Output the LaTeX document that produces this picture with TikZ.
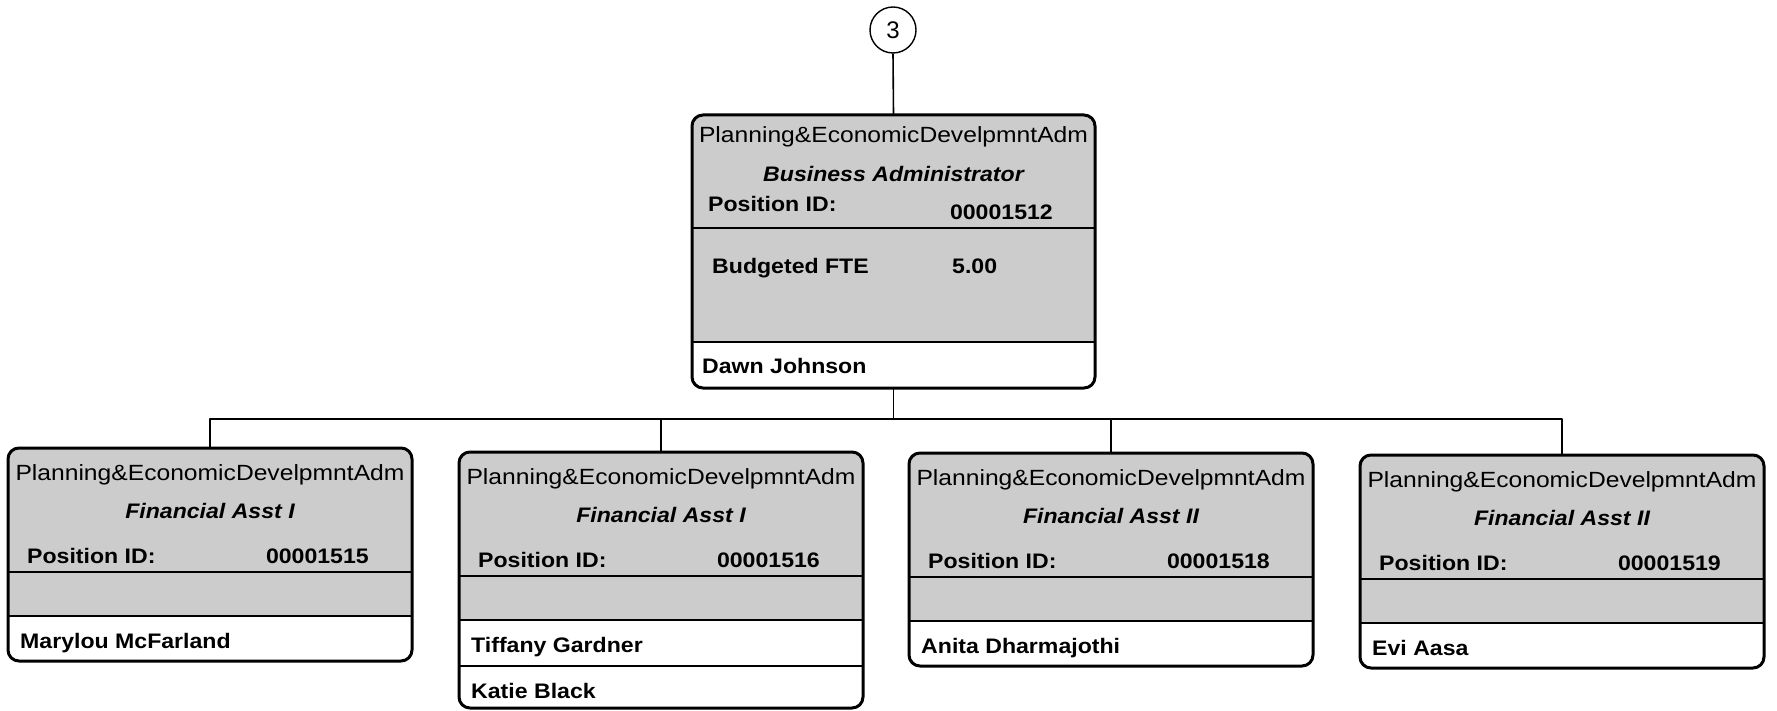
\documentclass[tikz,border=0pt]{standalone}
\usepackage{fontspec}
\setmainfont{Liberation Sans}
\usetikzlibrary{calc}
\definecolor{cardgray}{RGB}{204,204,204}
% horizontally widened text
\newcommand\wider[2][1.1]{\scalebox{#1}[1]{#2}}
\tikzset{
  cardbase/.style={inner sep=0pt, outer sep=0pt, fill=white, draw=none, rounded corners=11pt},
  frame/.style={line width=3pt, rounded corners=11pt},
  divider/.style={line width=1.8pt},
  link/.style={line width=1.6pt},
  hdr/.style={inner sep=0pt, anchor=base, font=\fontsize{22}{26}\selectfont},
  ttl/.style={inner sep=0pt, anchor=base, font=\fontsize{21}{24}\selectfont\bfseries\itshape},
  lbl/.style={inner sep=0pt, anchor=base west, font=\fontsize{21}{24}\selectfont\bfseries},
  lblr/.style={inner sep=0pt, anchor=base east, font=\fontsize{21}{24}\selectfont\bfseries},
}
% card background: white rounded box with a gray upper part
\newcommand\cardbody[6]{%
  \node[cardbase, minimum width=#4pt, minimum height=#5pt, anchor=north west] (#1) at (#2,#3) {};
  \begin{scope}
    \clip[rounded corners=11pt] (#1.north west) rectangle (#1.south east);
    \fill[cardgray] (#1.north west) rectangle ($(#1.north east)+(0,#6)$);
  \end{scope}
}
\newcommand\cardline[2]{%
  \draw[divider] ($(#1.north west)+(0,#2)$) -- ($(#1.north east)+(0,#2)$);
}
\newcommand\cardframe[1]{%
  \draw[frame] (#1.north west) rectangle (#1.south east);
}
% subordinate position card: name, left, top, title, id, person
\newcommand\subcard[6]{%
  \cardbody{#1}{#2}{#3}{404}{213}{168}
  \cardline{#1}{124}
  \cardline{#1}{168}
  \node[hdr] (#1-unit) at ($(#1.north)+(0,32)$) {\wider[1.12]{Planning\&EconomicDevelpmntAdm}};
  \node[ttl] (#1-title) at ($(#1.north)+(0,70)$) {\wider{#4}};
  \node[lbl] (#1-pid) at ($(#1.north west)+(19,115)$) {\wider{Position ID:}};
  \node[lblr] (#1-num) at ($(#1.north east)+(-43,115)$) {\wider{#5}};
  \node[lbl] (#1-name) at ($(#1.north west)+(12,200)$) {\wider{#6}};
  \cardframe{#1}
}
\begin{document}
\begin{tikzpicture}[x=1pt, y=-1pt, line join=round]
\useasboundingbox (0,0) rectangle (1777,711);

% off-page connector
\node[circle, draw, line width=1.4pt, minimum size=46pt, inner sep=0pt,
      font=\fontsize{24}{28}\selectfont] (c3) at (893,30) {3};

% head position
\cardbody{b0}{692}{115}{403}{273}{227}
\cardline{b0}{113}
\cardline{b0}{227}
\node[hdr] (b0-unit) at ($(b0.north)+(0,28)$) {\wider[1.12]{Planning\&EconomicDevelpmntAdm}};
\node[ttl] (b0-title) at ($(b0.north)+(0,67)$) {\wider{Business Administrator}};
\node[lbl] (b0-pid) at ($(b0.north west)+(16,97)$) {\wider{Position ID:}};
\node[lblr] (b0-num) at ($(b0.north east)+(-42,105)$) {\wider{00001512}};
\node[lbl] (b0-fte) at ($(b0.north west)+(20,158)$) {\wider{Budgeted FTE}};
\node[lbl] (b0-fteval) at ($(b0.north west)+(260,158)$) {\wider{5.00}};
\node[lbl] (b0-name) at ($(b0.north west)+(10,258)$) {\wider{Dawn Johnson}};
\cardframe{b0}

% subordinate positions
\subcard{b1}{8}{448}{Financial Asst I}{00001515}{Marylou McFarland}

\cardbody{b2}{459}{452}{404}{256}{168}
\cardline{b2}{124}
\cardline{b2}{168}
\cardline{b2}{214}
\node[hdr] (b2-unit) at ($(b2.north)+(0,32)$) {\wider[1.12]{Planning\&EconomicDevelpmntAdm}};
\node[ttl] (b2-title) at ($(b2.north)+(0,70)$) {\wider{Financial Asst I}};
\node[lbl] (b2-pid) at ($(b2.north west)+(19,115)$) {\wider{Position ID:}};
\node[lblr] (b2-num) at ($(b2.north east)+(-43,115)$) {\wider{00001516}};
\node[lbl] (b2-name) at ($(b2.north west)+(12,200)$) {\wider{Tiffany Gardner}};
\node[lbl] (b2-name2) at ($(b2.north west)+(12,246)$) {\wider{Katie Black}};
\cardframe{b2}

\subcard{b3}{909}{453}{Financial Asst II}{00001518}{Anita Dharmajothi}
\subcard{b4}{1360}{455}{Financial Asst II}{00001519}{Evi Aasa}

% reporting lines
\coordinate (bus) at ($(b0.south)+(0,31)$);
\draw[link] (c3.south) -- (b0.north);
\draw[link] (b0.south) -- (bus);
\draw[link] (bus) -| (b1.north);
\draw[link] (bus) -| (b2.north);
\draw[link] (bus) -| (b3.north);
\draw[link] (bus) -| (b4.north);
\end{tikzpicture}
\end{document}
